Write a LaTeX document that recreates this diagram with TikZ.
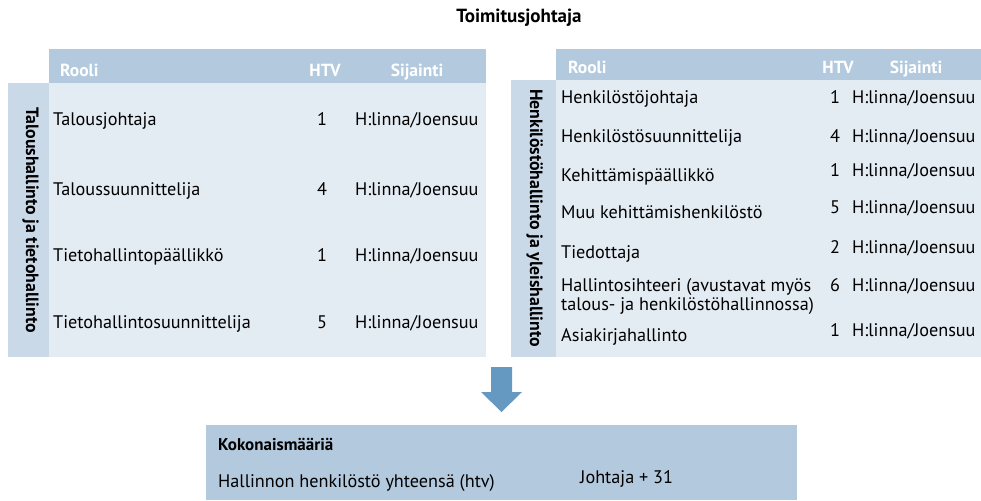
\documentclass[tikz,border=0pt]{standalone}
\usepackage{fontspec}
\setmainfont{PT Sans}
\definecolor{hdrblue}{HTML}{B3C9DE}
\definecolor{sideblue}{HTML}{C9D9E8}
\definecolor{bodyblue}{HTML}{E3EBF3}
\definecolor{arrowblue}{HTML}{6699C2}
\begin{document}
\begin{tikzpicture}[x=1pt,y=-1pt,
  cell/.style={inner sep=0pt,anchor=west,yshift=-2.5pt,font=\fontsize{18.2}{22}\selectfont,text height=0.8em,text depth=0.2em},
  num/.style={cell,anchor=center},
  hdrtext/.style={cell,font=\fontsize{17.5}{21}\selectfont\bfseries,text=white},
  sidelabel/.style={inner sep=0pt,rotate=-90,font=\fontsize{17.8}{21}\selectfont\bfseries,text height=0.8em,text depth=0.2em},
  boldtext/.style={cell,font=\fontsize{17}{20}\selectfont\bfseries}]
\useasboundingbox (0,0) rectangle (981,500);

% title
\node[inner sep=0pt,font=\fontsize{19}{22}\selectfont\bfseries] (title) at (519,18) {Toimitusjohtaja};

% ---- left table: finance and IT administration
\fill[hdrblue] (49,49) rectangle (486,83);
\fill[sideblue] (8,83) rectangle (49,357);
\fill[bodyblue] (49,83) rectangle (486,357);
\node[hdrtext] (lrole) at (60,71) {Rooli};
\node[hdrtext,anchor=center] (lhtv) at (325,71) {HTV};
\node[hdrtext,anchor=center] (lloc) at (417,71) {Sijainti};
\node[sidelabel] (lside) at (29,220) {Taloushallinto ja tietohallinto};

\foreach \y/\role/\n [count=\i] in {120/Talousjohtaja/1, 190/Taloussuunnittelija/4, 256/Tietohallintopäällikkö/1, 323/Tietohallintosuunnittelija/5}{
  \node[cell] (lr\i) at (53,\y) {\role};
  \node[num] (ln\i) at (322,\y) {\n};
  \node[cell] (ll\i) at (355,\y) {H:linna/Joensuu};
}

% ---- right table: HR and general administration
\fill[hdrblue] (556,49) rectangle (981,80);
\fill[sideblue] (511,80) rectangle (556,357);
\fill[bodyblue] (556,80) rectangle (981,357);
\node[hdrtext] (rrole) at (568,68) {Rooli};
\node[hdrtext,anchor=center] (rhtv) at (838,68) {HTV};
\node[hdrtext,anchor=center] (rloc) at (916,68) {Sijainti};
\node[sidelabel] (rside) at (533,218) {Henkilöstöhallinto ja yleishallinto};

\foreach \y/\ny/\role/\n [count=\i] in {98/98/Henkilöstöjohtaja/1, 137/137/Henkilöstösuunnittelija/4, 176/171/Kehittämispäällikkö/1, 213/208/Muu kehittämishenkilöstö/5, 253/248/Tiedottaja/2, 336/331/Asiakirjahallinto/1}{
  \node[cell] (rr\i) at (561,\y) {\role};
  \node[num] (rn\i) at (835,\ny) {\n};
  \node[cell] (rl\i) at (852,\ny) {H:linna/Joensuu};
}
\node[cell] (rsec1) at (561,286) {Hallintosihteeri (avustavat myös};
\node[cell] (rsec2) at (561,305) {talous- ja henkilöstöhallinnossa)};
\node[num] (rsecn) at (835,286) {6};
\node[cell] (rsecl) at (852,286) {H:linna/Joensuu};

% ---- block arrow down to the totals
\fill[arrowblue] (491,367) -- (512,367) -- (512,392) -- (522,392) -- (501.5,412)
  -- (481,392) -- (491,392) -- cycle;

% ---- totals
\fill[hdrblue] (206,425) rectangle (797,500);
\node[boldtext] (ttitle) at (218,445) {Kokonaismääriä};
\node[cell] (tlabel) at (218,482) {Hallinnon henkilöstö yhteensä (htv)};
\node[cell] (tvalue) at (580,478) {Johtaja + 31};
\end{tikzpicture}
\end{document}
